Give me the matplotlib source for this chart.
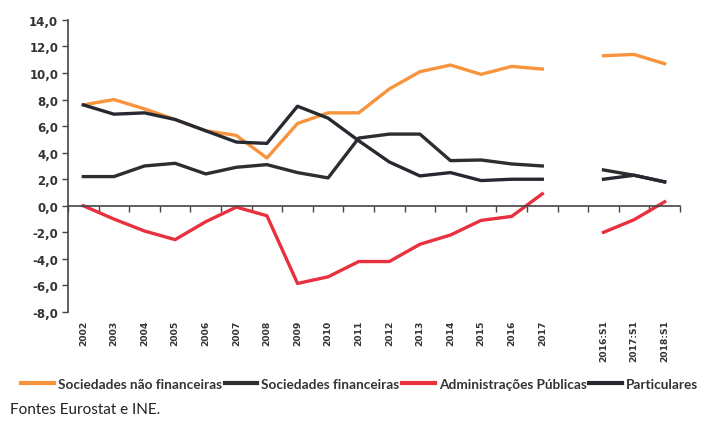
import matplotlib
matplotlib.use("Agg")
import matplotlib.pyplot as plt
import numpy as np

nan = np.nan

CATEGORIES = ["2002", "2003", "2004", "2005", "2006", "2007", "2008", "2009",
              "2010", "2011", "2012", "2013", "2014", "2015", "2016", "2017",
              "", "2016:S1", "2017:S1", "2018:S1"]

SNF = [7.6, 8.0, 7.3, 6.5, 5.65, 5.3, 3.6, 6.2, 7.0, 7.0, 8.8, 10.1, 10.6,
       9.9, 10.5, 10.3, nan, 11.3, 11.4, 10.7]
SF = [2.2, 2.2, 3.0, 3.2, 2.4, 2.9, 3.1, 2.5, 2.1, 5.1, 5.4, 5.4, 3.4,
      3.45, 3.15, 3.0, nan, 2.7, 2.3, 1.8]
AP = [0.0, -1.0, -1.9, -2.55, -1.2, -0.1, -0.75, -5.85, -5.35, -4.2, -4.2,
      -2.9, -2.2, -1.1, -0.8, 0.9, nan, -2.0, -1.05, 0.3]
PART = [7.6, 6.9, 7.0, 6.5, 5.65, 4.8, 4.7, 7.5, 6.6, 4.9, 3.3, 2.25, 2.5,
        1.9, 2.0, 2.0, nan, 2.0, 2.3, 1.8]

Y_TICKS = [14, 12, 10, 8, 6, 4, 2, 0, -2, -4, -6, -8]

ORANGE = "#f7943c"
RED = "#e8303f"
DARK = "#2e2e2e"
DARK2 = "#262a30"
AXIS = "#444444"

fig = plt.figure(figsize=(7.05, 4.27), dpi=100)
ax = fig.add_axes([0.0965, 0.267, 0.868, 0.684])

x = np.arange(len(CATEGORIES))
lw = 2.4
ax.plot(x, SNF, color=ORANGE, lw=lw, label="Sociedades não financeiras",
        solid_joinstyle="round")
ax.plot(x, SF, color=DARK, lw=lw, label="Sociedades financeiras",
        solid_joinstyle="round")
ax.plot(x, AP, color=RED, lw=lw, label="Administrações Públicas",
        solid_joinstyle="round")
ax.plot(x, PART, color=DARK2, lw=lw, label="Particulares",
        solid_joinstyle="round")

ax.set_xlim(-0.5, len(CATEGORIES) - 0.5)
ax.set_ylim(-8, 14)
ax.set_yticks(Y_TICKS)
ax.set_yticklabels([f"{v:.1f}".replace(".", ",") for v in Y_TICKS],
                   fontsize=8.5, fontweight="bold", color="#333333")

ax.set_xticks(np.arange(len(CATEGORIES) + 1) - 0.5)
ax.set_xticklabels([])
ax.tick_params(axis="x", length=4, width=1.0, color=AXIS, direction="out")
ax.tick_params(axis="y", length=4, width=1.0, color=AXIS, pad=3)

ax.spines[["top", "right"]].set_visible(False)
ax.spines["bottom"].set_position(("data", 0))
for s in ("left", "bottom"):
    ax.spines[s].set_color(AXIS)
    ax.spines[s].set_linewidth(1.2)

# category labels sit under the plot area, not at the zero line
for i, lab in enumerate(CATEGORIES):
    ax.text(i, -0.025, lab, transform=ax.get_xaxis_transform(),
            rotation=90, ha="center", va="top", fontsize=6.6,
            family=["Liberation Sans Narrow", "DejaVu Sans"],
            fontweight="bold", color="#333333")

leg = fig.legend(loc="center left", bbox_to_anchor=(0.030, 0.098), ncol=4,
                 frameon=False, handlelength=2.4, handletextpad=0.3,
                 columnspacing=0.2, borderaxespad=0, borderpad=0,
                 prop={"family": "Lato", "weight": "bold", "size": 9.8})
for t in leg.get_texts():
    t.set_color("#333333")
for h in leg.get_lines():
    h.set_linewidth(3)

fig.text(0.014, 0.04, "Fontes Eurostat e INE.", family="Lato", fontsize=11,
         color="#222222", va="center", ha="left")

fig.savefig("out.png", dpi=100, facecolor="white")
